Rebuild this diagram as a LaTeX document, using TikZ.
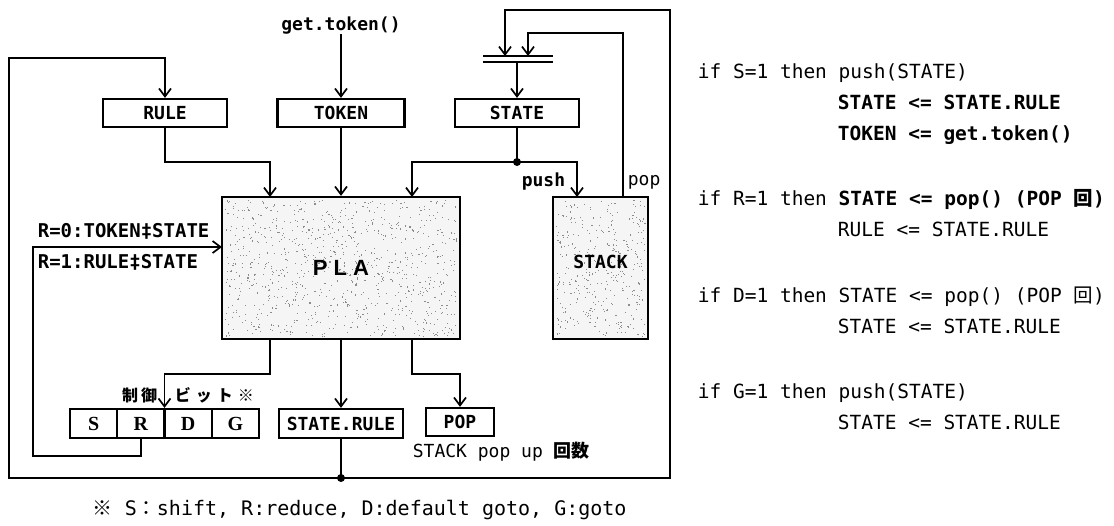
\documentclass[tikz,border=0pt]{standalone}
\usepackage{fontspec}
\setmonofont{DejaVu Sans Mono}
\newfontfamily\jp{Noto Sans CJK JP}
\newfontfamily\serifb{Liberation Serif}
\newfontfamily\sansb{Liberation Sans}
\usetikzlibrary{arrows.meta}
\begin{document}
\begin{tikzpicture}[x=1pt,y=-1pt,
  line width=1.7pt,
  >={Straight Barb[length=8pt,width=12pt]},
  box/.style={draw,line width=2.2pt,inner sep=0pt,font=\fontsize{18}{20}\selectfont\ttfamily\bfseries},
  lbl/.style={inner sep=0pt,font=\fontsize{18}{20}\selectfont\ttfamily,text height=13pt,text depth=3pt},
  rt/.style={inner sep=0pt,anchor=west,font=\fontsize{19.5}{21}\selectfont\ttfamily,text height=13pt,text depth=3pt},
  rtb/.style={rt,font=\fontsize{19.5}{21}\selectfont\ttfamily\bfseries},
  cell/.style={draw,line width=2.2pt,minimum width=47.25pt,minimum height=29pt,inner sep=0pt,font=\fontsize{20}{22}\selectfont\serifb\bfseries},
  jlbl/.style={inner sep=0pt,font=\fontsize{16}{18}\selectfont\jp\bfseries},
  stipple/.style={fill=black!4}
]
\useasboundingbox (0,0) rectangle (1114,525);

% shaded blocks (drawn first, with a light stipple)
\node[box,stipple,minimum width=238pt,minimum height=142pt] (pla) at (341,268) {};
\node[box,stipple,minimum width=95pt,minimum height=142pt] (stack) at (600.5,268) {};
\pgfmathsetseed{11}
\foreach \i in {1,...,900}{
  \pgfmathsetmacro\px{225+rnd*232}
  \pgfmathsetmacro\py{200+rnd*136}
  \fill[black!45] (\px,\py) rectangle +(1.1,1.1);
}
\foreach \i in {1,...,360}{
  \pgfmathsetmacro\px{556+rnd*89}
  \pgfmathsetmacro\py{200+rnd*136}
  \fill[black!45] (\px,\py) rectangle +(1.1,1.1);
}
\node[box,minimum width=238pt,minimum height=142pt] at (pla) {};
\node[box,minimum width=95pt,minimum height=142pt] at (stack) {};
\node[inner sep=0pt,font=\fontsize{22}{24}\selectfont\sansb\bfseries] (plalbl) at (341,268) {P L A};
\node[lbl,font=\fontsize{18}{20}\selectfont\ttfamily\bfseries] (stacklbl) at (600.5,263) {STACK};

% boxes
\node[lbl,font=\fontsize{18}{20}\selectfont\ttfamily\bfseries] (gettoken) at (341,25) {get.token()};
\node[box,minimum width=124pt,minimum height=28pt] (rule) at (165,113) {RULE};
\node[box,minimum width=127pt,minimum height=28pt] (token) at (341,113) {TOKEN};
\node[box,minimum width=124pt,minimum height=28pt] (state) at (517,113) {STATE};
\node[cell] (cS) at (93.6,423.5) {S};
\node[cell] (cR) at (140.9,423.5) {R};
\node[cell] (cD) at (188.1,423.5) {D};
\node[cell] (cG) at (235.4,423.5) {G};
\node[box,minimum width=124pt,minimum height=29pt] (srule) at (341,423.5) {STATE.RULE};
\node[box,minimum width=68pt,minimum height=28pt] (popbox) at (460,422) {POP};

% multiplexer
\coordinate (muxA) at (505,56);
\coordinate (muxB) at (528,56);
\coordinate (muxO) at (517,62);
\draw (483,56) -- (553,56);
\draw (483,62) -- (553,62);

% coordinates
\coordinate (dotB) at (341,478);
\coordinate (LB) at (9,478);
\coordinate (LT) at (9,58);
\coordinate (RB) at (670,478);
\coordinate (RT) at (670,10);
\coordinate (popT) at (623,33);
\coordinate (dotS) at (517,162);
\coordinate (plaIn3) at (412,197);
\coordinate (stIn) at (577,197);
\coordinate (ruleK) at (165,162);
\coordinate (plaIn1) at (270,197);
\coordinate (plaOut1) at (270,339);
\coordinate (ctlK) at (164.5,374);
\coordinate (plaOut3) at (412,339);
\coordinate (popK) at (460,374);
\coordinate (fbK) at (33,456);
\coordinate (plaInL) at (222,247);

% connectors
\draw[->] (gettoken.south) -- (token.north);
\draw[->] (dotB) -- (LB) -- (LT) -| (rule.north);
\draw[->] (dotB) -- (RB) -- (RT) -| (muxA);
\draw[->] (stack.north -| popT) -- (popT) -| (muxB);
\draw[->] (muxO) -- (state.north);
\draw (state.south) -- (dotS);
\draw[->] (dotS) -| (plaIn3);
\draw[->] (dotS) -| (stIn);
\draw[->] (rule.south) -- (ruleK) -| (plaIn1);
\draw[->] (token.south) -- (token.south |- pla.north);
\draw[->] (plaOut1) |- (ctlK) -- (ctlK |- cR.north);
\draw[->] (pla.south) -- (srule.north);
\draw[->] (plaOut3) |- (popK) -- (popbox.north);
\draw (srule.south) -- (dotB);
\draw[->] (cR.south) |- (fbK) |- (plaInL);
\fill (dotB) circle (4pt);
\fill (dotS) circle (4pt);

% labels
\node[lbl,anchor=west] (poplbl) at (627,180) {pop};
\node[lbl,anchor=east,font=\fontsize{18}{20}\selectfont\ttfamily\bfseries] (pushlbl) at (566,181) {push};
\node[lbl,anchor=west,font=\fontsize{19}{21}\selectfont\ttfamily\bfseries] (r0) at (37,232) {R=0:TOKEN‡STATE};
\node[lbl,anchor=west,font=\fontsize{19}{21}\selectfont\ttfamily\bfseries] (r1) at (37,263) {R=1:RULE‡STATE};
\node[jlbl,anchor=east] (ctl1) at (158,395) {制\hspace{3pt}御};
\node[jlbl,anchor=west] (ctl2) at (174,395) {ビ\hspace{5pt}ッ\hspace{5pt}ト\hspace{5pt}※};
\node[lbl,anchor=west] (popcnt) at (412,452) {STACK pop up {\jp\bfseries 回数}};

% footnote
\node[rt,font=\fontsize{20}{22}\selectfont\ttfamily] (foot) at (92,510) {{\jp ※} S{\jp ：}shift, R:reduce, D:default goto, G:goto};

% right-hand text
\node[rt] (s1) at (697,73) {if S=1 then push(STATE)};
\node[rtb] (s2) at (837,104) {STATE <= STATE.RULE};
\node[rtb] (s3) at (837,135) {TOKEN <= get.token()};
\node[rt] (r1t) at (697,200) {if R=1 then {\bfseries STATE <= pop() (POP {\jp 回})}};
\node[rt] (r2t) at (837,231) {RULE <= STATE.RULE};
\node[rt] (d1) at (697,297) {if D=1 then STATE <= pop() (POP {\jp 回})};
\node[rt] (d2) at (837,328) {STATE <= STATE.RULE};
\node[rt] (g1) at (697,393) {if G=1 then push(STATE)};
\node[rt] (g2) at (837,424) {STATE <= STATE.RULE};
\end{tikzpicture}
\end{document}
